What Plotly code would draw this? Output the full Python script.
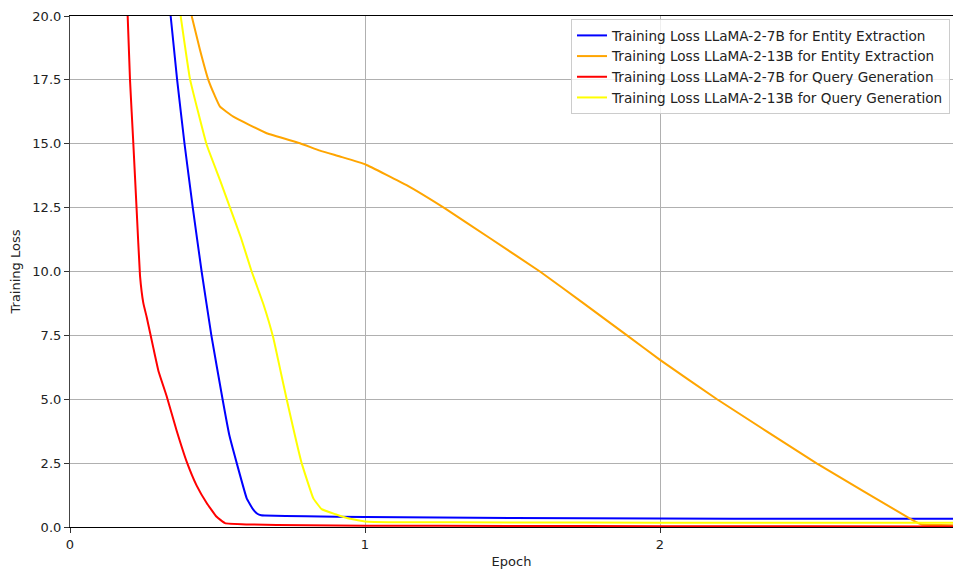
import plotly.graph_objects as go

# ---- data ----
blue_epoch = [0.3412, 0.3632, 0.3882, 0.4162, 0.4462, 0.4792, 0.5172, 0.5400, 0.5652,
              0.5990, 0.6200, 0.6350, 0.6480, 0.6600, 0.8000, 1.0000, 1.5000,
              2.0000, 2.5000, 3.0000]
blue_loss = [20.0, 17.5, 15.0, 12.5, 10.0, 7.5, 5.0, 3.6, 2.5,
             1.12, 0.70, 0.52, 0.46, 0.45, 0.42, 0.39, 0.35,
             0.33, 0.32, 0.32]

orange_epoch = [0.4124, 0.4407, 0.4689, 0.4900, 0.5085, 0.5537, 0.6667, 0.7797, 0.8475,
                0.9150, 1.0020, 1.1410, 1.2710, 1.4240, 1.5930, 1.7400, 1.8870, 2.0000,
                2.1920, 2.5310, 2.8590, 2.8870, 2.9500, 3.0000]
orange_loss = [20.0, 18.67, 17.5, 16.9, 16.45, 16.06, 15.41, 15.02, 14.73,
               14.50, 14.19, 13.38, 12.47, 11.3, 10.0, 8.76, 7.51, 6.54,
               5.01, 2.49, 0.25, 0.10, 0.08, 0.07]

red_epoch = [0.1955, 0.2034, 0.2147, 0.2260, 0.2373, 0.2486, 0.2599, 0.2825, 0.3000,
             0.3277, 0.3616, 0.3955, 0.4294, 0.4633, 0.4972, 0.5254, 0.6000, 0.8000,
             1.0000, 1.5000, 2.0000, 2.5000, 3.0000]
red_loss = [20.0, 17.5, 15.0, 12.4, 9.84, 8.76, 8.22, 7.01, 6.1,
            5.12, 3.77, 2.56, 1.62, 0.94, 0.40, 0.15, 0.10, 0.07,
            0.05, 0.04, 0.03, 0.03, 0.02]

yellow_epoch = [0.3751, 0.4068, 0.4633, 0.5085, 0.5424, 0.5800, 0.6158, 0.6554, 0.6893,
                0.7119, 0.7345, 0.7853, 0.8249, 0.8530, 0.9000, 0.9500, 1.0000, 1.1000,
                1.5000, 2.0000, 2.5000, 3.0000]
yellow_loss = [20.0, 17.53, 14.96, 13.58, 12.5, 11.3, 10.0, 8.73, 7.4,
               6.2, 5.0, 2.5, 1.12, 0.70, 0.50, 0.32, 0.22, 0.19,
               0.18, 0.17, 0.17, 0.17]

series_names = [
    "Training Loss LLaMA-2-7B for Entity Extraction",
    "Training Loss LLaMA-2-13B for Entity Extraction",
    "Training Loss LLaMA-2-7B for Query Generation",
    "Training Loss LLaMA-2-13B for Query Generation",
]
series_colors = ["blue", "orange", "red", "yellow"]

x_ticks = [0, 1, 2, 3]
y_ticks = [0.0, 2.5, 5.0, 7.5, 10.0, 12.5, 15.0, 17.5, 20.0]

xs = [blue_epoch, orange_epoch, red_epoch, yellow_epoch]
ys = [blue_loss, orange_loss, red_loss, yellow_loss]

fig = go.Figure()
for x, y, name, color in zip(xs, ys, series_names, series_colors):
    fig.add_trace(go.Scatter(x=x, y=y, mode="lines", name=name,
                             line=dict(color=color, width=2, shape="spline", smoothing=0.3)))

font = dict(family="DejaVu Sans", size=13, color="#222")

fig.update_layout(
    width=953, height=570,
    margin=dict(l=70, r=0, t=16, b=43),
    paper_bgcolor="white", plot_bgcolor="white",
    font=font,
    showlegend=True,
    legend=dict(x=0.9966, y=0.994, xanchor="right", yanchor="top",
                bgcolor="rgba(255,255,255,0.8)", bordercolor="#cccccc", borderwidth=1,
                font=dict(family="DejaVu Sans", size=13.6, color="#222"),
                tracegroupgap=0, itemwidth=30),
)
fig.update_xaxes(
    range=[0, 2.9932], tickvals=x_ticks, ticktext=[str(t) for t in x_ticks],
    showgrid=True, gridcolor="#b0b0b0", gridwidth=1,
    zeroline=False, showline=True, linecolor="black", linewidth=1.2, mirror=True,
    ticks="outside", ticklen=5, tickcolor="#333",
    title=dict(text="Epoch", font=font, standoff=6),
)
fig.update_yaxes(
    range=[0, 20], tickvals=y_ticks, ticktext=[f"{t:.1f}" for t in y_ticks],
    showgrid=True, gridcolor="#b0b0b0", gridwidth=1,
    zeroline=False, showline=True, linecolor="#444", linewidth=1.2, mirror=False,
    ticks="outside", ticklen=5, tickcolor="#333",
    title=dict(text="Training Loss", font=font, standoff=8),
)

fig.write_html(
    "out.html",
    config={"displayModeBar": False},
    post_script="document.body.style.margin='0';document.body.style.overflow='hidden';",
)
